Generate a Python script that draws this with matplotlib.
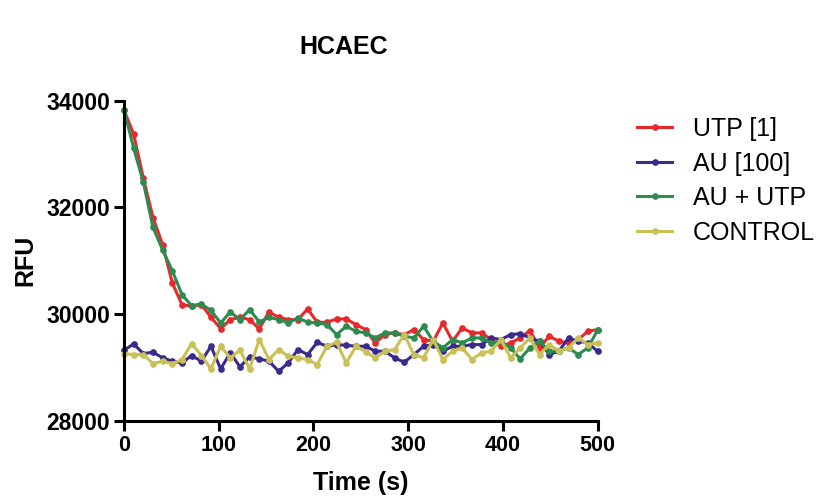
import matplotlib
matplotlib.use("Agg")
import matplotlib.pyplot as plt

plt.rcParams['font.family'] = ['Liberation Sans', 'DejaVu Sans']

# sampling times (s), one reading roughly every 10.2 s
time_s = [0.0, 10.2, 20.4, 30.6, 40.8, 51.0, 61.2, 71.4, 81.6, 91.8,
          102.0, 112.2, 122.4, 132.6, 142.8, 153.0, 163.2, 173.4, 183.6, 193.8,
          204.0, 214.2, 224.4, 234.6, 244.8, 255.0, 265.2, 275.4, 285.6, 295.8,
          306.0, 316.2, 326.4, 336.6, 346.8, 357.0, 367.2, 377.4, 387.6, 397.8,
          408.0, 418.2, 428.4, 438.6, 448.8, 459.0, 469.2, 479.4, 489.6, 499.8]

utp = [33826, 33372, 32549, 31812, 31300, 30585, 30180, 30150, 30180, 29942,
       29731, 29899, 29942, 29899, 29725, 30043, 29942, 29899, 29899, 30100,
       29849, 29849, 29912, 29912, 29806, 29712, 29463, 29618, 29650, 29618,
       29712, 29525, 29494, 29837, 29494, 29744, 29650, 29650, 29525, 29400,
       29463, 29556, 29693, 29370, 29587, 29494, 29463, 29525, 29681, 29712]

au = [29325, 29444, 29263, 29288, 29183, 29120, 29089, 29226, 29120, 29400,
      28977, 29276, 29015, 29201, 29164, 29120, 28932, 29089, 29338, 29245,
      29474, 29400, 29431, 29418, 29400, 29400, 29307, 29307, 29183, 29101,
      29245, 29400, 29431, 29307, 29400, 29400, 29431, 29431, 29556, 29525,
      29618, 29637, 29556, 29494, 29245, 29307, 29556, 29494, 29463, 29307]

au_utp = [33826, 33110, 32474, 31625, 31202, 30815, 30367, 30160, 30192, 30073,
          29837, 30043, 29899, 30086, 29856, 29942, 29899, 29837, 29931, 29850,
          29837, 29806, 29618, 29774, 29681, 29650, 29556, 29650, 29650, 29587,
          29556, 29774, 29494, 29370, 29525, 29463, 29556, 29556, 29463, 29494,
          29370, 29164, 29370, 29494, 29307, 29307, 29370, 29245, 29370, 29700]

control = [29263, 29245, 29245, 29076, 29120, 29076, 29151, 29450, 29226, 28977,
           29400, 29183, 29325, 28977, 29525, 29151, 29338, 29213, 29183, 29151,
           29058, 29400, 29474, 29089, 29400, 29300, 29183, 29307, 29338, 29618,
           29245, 29183, 29525, 29151, 29307, 29370, 29151, 29276, 29307, 29525,
           29183, 29370, 29556, 29245, 29431, 29307, 29370, 29556, 29431, 29463]

series = [
    ("UTP [1]", utp, "#e8282b"),
    ("AU [100]", au, "#3b2a8c"),
    ("AU + UTP", au_utp, "#2e8b50"),
    ("CONTROL", control, "#c9c155"),
]

fig = plt.figure(figsize=(8.17, 4.99), dpi=100)
ax = fig.add_axes([124 / 817, 78 / 499, (597.7 - 124) / 817, (421 - 100.7) / 499])

for label, values, color in series:
    ax.plot(time_s, values, color=color, lw=2.2, marker="o", ms=3.8,
            label=label, clip_on=False)

ax.set_xlim(0, 500)
ax.set_ylim(28000, 34000)
ax.set_xticks([0, 100, 200, 300, 400, 500])
ax.set_yticks([28000, 30000, 32000, 34000])

for side in ("top", "right"):
    ax.spines[side].set_visible(False)
for side in ("left", "bottom"):
    ax.spines[side].set_linewidth(2.2)
ax.tick_params(axis="both", width=2.2, length=7.2, direction="out", pad=3)
ax.tick_params(axis="x", labelsize=15.5)
ax.tick_params(axis="y", labelsize=16.5)
for lab in ax.get_xticklabels() + ax.get_yticklabels():
    lab.set_fontweight("bold")

ax.set_xlabel("Time (s)", fontsize=18, fontweight="bold", labelpad=11)
ax.set_ylabel("RFU", fontsize=18, fontweight="bold", labelpad=6)
fig.text(344 / 817, 1 - 47 / 499, "HCAEC", fontsize=18, fontweight="bold",
         ha="center", va="center")

ax.legend(loc="upper left", bbox_to_anchor=(637 / 817, 1 - 117 / 499),
          bbox_transform=fig.transFigure, frameon=False, fontsize=18,
          handlelength=1.4, handletextpad=0.84, labelspacing=0.42,
          borderaxespad=0, borderpad=0)

fig.savefig("out.png", dpi=100)
